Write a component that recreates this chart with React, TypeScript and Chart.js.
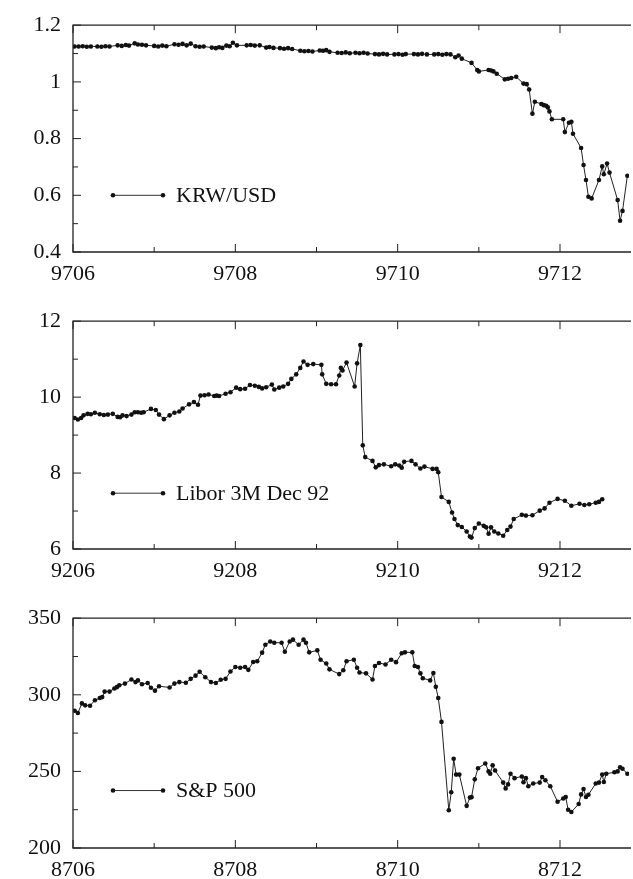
import React, { useEffect, useRef } from "react";
import { Chart, registerables } from "chart.js";

Chart.register(...registerables);

// ---------- Panel 1: KRW/USD ----------
const krwName = "KRW/USD";
const krwXTicks = ["9706", "9708", "9710", "9712"];
const krwYTicks = ["0.4", "0.6", "0.8", "1", "1.2"];
const krwT = [
  0.02, 0.07, 0.12, 0.17, 0.22, 0.3, 0.35, 0.4, 0.45, 0.55, 0.6, 0.65, 0.69, 0.76, 0.8, 0.85, 0.9,
  1.0, 1.05, 1.1, 1.15, 1.25, 1.3, 1.35, 1.4, 1.45, 1.51, 1.56, 1.61, 1.71, 1.76, 1.8, 1.84, 1.89,
  1.93, 1.97, 2.02, 2.14, 2.19, 2.24, 2.3, 2.38, 2.42, 2.47, 2.55, 2.6, 2.65, 2.7, 2.8, 2.85, 2.9,
  2.95, 3.04, 3.08, 3.12, 3.16, 3.26, 3.31, 3.36, 3.41, 3.48, 3.53, 3.58, 3.63, 3.72, 3.77, 3.82,
  3.87, 3.96, 4.01, 4.06, 4.1, 4.2, 4.25, 4.3, 4.36, 4.45, 4.5, 4.55, 4.6, 4.65, 4.71, 4.75, 4.79,
  4.91, 4.98, 5.0, 5.12, 5.15, 5.18, 5.22, 5.32, 5.36, 5.4, 5.46, 5.55, 5.59, 5.62, 5.66, 5.69,
  5.77, 5.8, 5.83, 5.85, 5.87, 5.9, 6.04, 6.06, 6.11, 6.14, 6.16, 6.26, 6.29, 6.32, 6.35, 6.39,
  6.48, 6.52, 6.54, 6.58, 6.61, 6.71, 6.74, 6.77, 6.83,
];
const krwV = [
  1.125, 1.125, 1.126, 1.124, 1.125, 1.125, 1.124, 1.126, 1.125, 1.129, 1.127, 1.13, 1.128, 1.136,
  1.132, 1.131, 1.129, 1.127, 1.125, 1.128, 1.126, 1.133, 1.131, 1.134, 1.129, 1.135, 1.126, 1.124,
  1.125, 1.121, 1.119, 1.122, 1.12, 1.128, 1.126, 1.138, 1.129, 1.129, 1.13, 1.128, 1.129, 1.121,
  1.123, 1.12, 1.119, 1.117, 1.119, 1.116, 1.11, 1.108, 1.109, 1.107, 1.111, 1.11, 1.112, 1.106,
  1.103, 1.102, 1.104, 1.101, 1.103, 1.101, 1.103, 1.1, 1.098, 1.097, 1.099, 1.097, 1.097, 1.098,
  1.096, 1.098, 1.098, 1.097, 1.099, 1.097, 1.097, 1.098, 1.096, 1.098, 1.097, 1.087, 1.093, 1.082,
  1.067, 1.042, 1.037, 1.042, 1.04, 1.037, 1.029, 1.009, 1.011, 1.014, 1.018, 0.994, 0.992, 0.973,
  0.888, 0.93, 0.922, 0.918, 0.916, 0.91, 0.896, 0.868, 0.868, 0.823, 0.856, 0.859, 0.817, 0.767,
  0.707, 0.654, 0.595, 0.589, 0.654, 0.702, 0.674, 0.712, 0.68, 0.583, 0.51, 0.545, 0.669,
];

// ---------- Panel 2: Libor 3M Dec 92 ----------
const liborName = "Libor 3M Dec 92";
const liborXTicks = ["9206", "9208", "9210", "9212"];
const liborYTicks = ["6", "8", "10", "12"];
const liborT = [
  0.02, 0.06, 0.1, 0.13, 0.18, 0.22, 0.27, 0.33, 0.38, 0.43, 0.49, 0.55, 0.58, 0.61, 0.66, 0.72,
  0.76, 0.8, 0.84, 0.87, 0.96, 1.02, 1.06, 1.12, 1.19, 1.25, 1.31, 1.35, 1.43, 1.49, 1.54, 1.57,
  1.62, 1.67, 1.74, 1.77, 1.8, 1.88, 1.94, 2.01, 2.06, 2.12, 2.18, 2.24, 2.29, 2.33, 2.38, 2.45,
  2.48, 2.54, 2.59, 2.65, 2.69, 2.75, 2.8, 2.84, 2.89, 2.96, 3.06, 3.07, 3.12, 3.18, 3.24, 3.28,
  3.3, 3.32, 3.37, 3.47, 3.5, 3.54, 3.57, 3.6, 3.69, 3.73, 3.77, 3.83, 3.92, 3.97, 4.02, 4.05,
  4.08, 4.17, 4.22, 4.28, 4.33, 4.43, 4.48, 4.5, 4.54, 4.63, 4.67, 4.7, 4.74, 4.79, 4.85, 4.89,
  4.91, 4.95, 5.0, 5.06, 5.09, 5.12, 5.15, 5.19, 5.24, 5.3, 5.35, 5.39, 5.43, 5.53, 5.58, 5.66,
  5.75, 5.81, 5.87, 5.97, 6.06, 6.14, 6.24, 6.3, 6.36, 6.44, 6.48, 6.52,
];
const liborV = [
  9.45, 9.41, 9.45, 9.52, 9.56, 9.55, 9.59, 9.55, 9.53, 9.54, 9.56, 9.48, 9.47, 9.52, 9.5, 9.54,
  9.6, 9.6, 9.59, 9.6, 9.69, 9.66, 9.54, 9.42, 9.52, 9.59, 9.62, 9.7, 9.81, 9.87, 9.8, 10.04,
  10.05, 10.07, 10.03, 10.04, 10.03, 10.09, 10.13, 10.25, 10.21, 10.22, 10.32, 10.3, 10.27, 10.23,
  10.26, 10.33, 10.2, 10.25, 10.28, 10.35, 10.48, 10.6, 10.77, 10.94, 10.85, 10.87, 10.85, 10.6,
  10.35, 10.34, 10.34, 10.57, 10.77, 10.7, 10.91, 10.28, 10.89, 11.37, 8.73, 8.42, 8.32, 8.15,
  8.21, 8.23, 8.18, 8.23, 8.2, 8.14, 8.3, 8.32, 8.23, 8.12, 8.17, 8.11, 8.11, 8.02, 7.37, 7.24,
  6.96, 6.79, 6.63, 6.58, 6.46, 6.33, 6.3, 6.55, 6.67, 6.61, 6.57, 6.4, 6.57, 6.46, 6.41, 6.35,
  6.5, 6.59, 6.79, 6.9, 6.88, 6.89, 7.01, 7.07, 7.22, 7.32, 7.27, 7.14, 7.19, 7.16, 7.18, 7.22,
  7.24, 7.31,
];

// ---------- Panel 3: S&P 500 ----------
const spName = "S&P 500";
const spXTicks = ["8706", "8708", "8710", "8712"];
const spYTicks = ["200", "250", "300", "350"];
const spT = [
  0.02, 0.06, 0.11, 0.15, 0.21, 0.27, 0.33, 0.36, 0.39, 0.45, 0.51, 0.54, 0.57, 0.64, 0.72, 0.77,
  0.8, 0.85, 0.92, 0.96, 1.01, 1.06, 1.19, 1.25, 1.31, 1.39, 1.45, 1.51, 1.56, 1.63, 1.7, 1.76,
  1.82, 1.88, 1.94, 2.0, 2.06, 2.12, 2.16, 2.22, 2.27, 2.33, 2.37, 2.43, 2.48, 2.57, 2.61, 2.67,
  2.71, 2.78, 2.84, 2.87, 2.91, 3.01, 3.05, 3.12, 3.16, 3.28, 3.33, 3.37, 3.46, 3.5, 3.53, 3.61,
  3.69, 3.72, 3.77, 3.85, 3.92, 3.98, 4.05, 4.09, 4.18, 4.21, 4.25, 4.28, 4.31, 4.4, 4.44, 4.47,
  4.5, 4.54, 4.63, 4.66, 4.69, 4.72, 4.76, 4.85, 4.89, 4.91, 4.95, 4.99, 5.08, 5.12, 5.14, 5.17,
  5.2, 5.3, 5.33, 5.36, 5.39, 5.44, 5.53, 5.55, 5.58, 5.61, 5.67, 5.75, 5.78, 5.82, 5.88, 5.97,
  6.04, 6.07, 6.1, 6.14, 6.23, 6.26, 6.29, 6.32, 6.35, 6.44, 6.48, 6.52, 6.54, 6.57, 6.67, 6.71,
  6.74, 6.77, 6.83, 6.9,
];
const spV = [
  289.6, 288.1, 294.4, 293.1, 292.9, 296.4, 297.9, 298.5, 302.1, 302.1, 304.1, 305.0, 306.2, 307.3,
  310.0, 308.3, 309.4, 306.9, 307.7, 304.6, 302.7, 305.6, 304.8, 307.3, 308.3, 307.9, 310.4, 312.5,
  315.0, 311.5, 308.3, 307.7, 309.8, 310.4, 315.2, 318.1, 317.7, 318.1, 316.3, 321.4, 321.9, 327.5,
  332.7, 334.8, 334.0, 334.0, 328.1, 334.8, 336.0, 332.7, 336.0, 334.0, 327.7, 329.0, 322.9, 320.4,
  316.6, 313.5, 316.0, 321.9, 322.9, 317.7, 314.6, 314.0, 310.0, 318.8, 320.8, 319.8, 322.9, 321.3,
  327.1, 327.7, 327.7, 318.8, 318.1, 314.0, 310.8, 309.4, 314.2, 305.2, 297.9, 282.3, 224.6, 236.4,
  258.3, 247.9, 247.9, 227.5, 232.9, 233.2, 244.8, 252.1, 255.2, 250.0, 248.5, 254.0, 250.6, 242.7,
  238.9, 241.5, 248.5, 245.6, 246.7, 242.9, 245.6, 240.3, 242.1, 242.7, 246.3, 244.2, 240.3, 230.2,
  232.3, 233.3, 225.0, 223.5, 228.7, 235.0, 238.5, 233.3, 234.8, 242.1, 242.7, 247.9, 243.1, 248.5,
  249.4, 250.0, 252.7, 251.7, 248.5, 246.0,
];

const FONT_FAMILY = "'Liberation Serif', 'Times New Roman', serif";
const INK = "#111";

type PanelDef = {
  name: string;
  xTicks: string[];
  yTicks: string[];
  t: number[];
  v: number[];
  yMin: number;
  yMax: number;
  yStep: number;
  legendValue: number;
  areaTop: number;
  areaBottom: number;
};

const PANEL_H = 300;
const PAD_TOP = 15;

function Panel({ def }: { def: PanelDef }) {
  const ref = useRef<HTMLCanvasElement | null>(null);
  useEffect(() => {
    if (!ref.current) return;
    const containerTop = def.areaTop - PAD_TOP;
    const xAxisH = PANEL_H - (def.areaBottom - containerTop);
    const yLabelFor = (val: number) => {
      const m = def.yTicks.find((s) => Math.abs(parseFloat(s) - val) < def.yStep * 0.01);
      return m ?? "";
    };
    const xLabelFor = (val: number) => {
      const r = Math.round(val);
      if (Math.abs(val - r) > 1e-6 || r % 2 !== 0) return "";
      return def.xTicks[r / 2] ?? "";
    };

    const framePlugin = {
      id: "frameTicks",
      afterDraw(chart: any) {
        const { ctx, chartArea: a } = chart;
        const xs = chart.scales.x;
        const ys = chart.scales.y;
        ctx.save();
        ctx.strokeStyle = "#222";
        ctx.lineWidth = 1.3;
        ctx.beginPath();
        ctx.moveTo(a.right + 2, a.top);
        ctx.lineTo(a.left, a.top);
        ctx.lineTo(a.left, a.bottom);
        ctx.lineTo(a.right + 2, a.bottom);
        ctx.stroke();
        ctx.lineWidth = 1;
        ctx.beginPath();
        xs.ticks.forEach((tk: any) => {
          const px = xs.getPixelForValue(tk.value);
          const major = xLabelFor(tk.value) !== "";
          const len = major ? 8 : 5;
          ctx.moveTo(px, a.bottom);
          ctx.lineTo(px, a.bottom - len);
          ctx.moveTo(px, a.top);
          ctx.lineTo(px, a.top + len);
        });
        ys.ticks.forEach((tk: any) => {
          const py = ys.getPixelForValue(tk.value);
          const major = yLabelFor(tk.value) !== "";
          const len = major ? 8 : 5;
          ctx.moveTo(a.left, py);
          ctx.lineTo(a.left + len, py);
        });
        ctx.stroke();

        // legend sample
        const ly = ys.getPixelForValue(def.legendValue);
        const x1 = 113;
        const x2 = 163;
        ctx.strokeStyle = "#333";
        ctx.lineWidth = 1;
        ctx.beginPath();
        ctx.moveTo(x1, ly);
        ctx.lineTo(x2, ly);
        ctx.stroke();
        ctx.fillStyle = INK;
        [x1, x2].forEach((px) => {
          ctx.beginPath();
          ctx.arc(px, ly, 2.3, 0, Math.PI * 2);
          ctx.fill();
        });
        ctx.font = `22px ${FONT_FAMILY}`;
        ctx.textBaseline = "middle";
        ctx.textAlign = "left";
        ctx.fillText(def.name, 176, ly + 1);
        ctx.restore();
      },
    };

    const chart = new Chart(ref.current, {
      type: "line",
      data: {
        datasets: [
          {
            label: def.name,
            data: def.t.map((t, i) => ({ x: t, y: def.v[i] })),
            borderColor: "#222",
            borderWidth: 1,
            pointRadius: 2.3,
            pointBackgroundColor: INK,
            pointBorderColor: INK,
            pointBorderWidth: 0,
            tension: 0,
          },
        ],
      },
      options: {
        animation: false,
        responsive: true,
        maintainAspectRatio: false,
        layout: { padding: { top: PAD_TOP, right: 0, left: 0, bottom: 0 } },
        plugins: { legend: { display: false }, tooltip: { enabled: false } },
        scales: {
          x: {
            type: "linear",
            min: 0,
            max: 6.85,
            grid: { display: false, drawTicks: false },
            border: { display: false },
            ticks: {
              stepSize: 1,
              includeBounds: false,
              autoSkip: false,
              maxRotation: 0,
              padding: 9,
              color: INK,
              font: { family: FONT_FAMILY, size: 22 },
              callback: (val: any) => xLabelFor(Number(val)),
            },
            afterFit: (s: any) => {
              s.height = xAxisH;
            },
          },
          y: {
            type: "linear",
            min: def.yMin,
            max: def.yMax,
            grid: { display: false, drawTicks: false },
            border: { display: false },
            ticks: {
              stepSize: def.yStep,
              autoSkip: false,
              padding: 12,
              color: INK,
              font: { family: FONT_FAMILY, size: 22 },
              callback: (val: any) => yLabelFor(Number(val)),
            },
            afterFit: (s: any) => {
              s.width = 73;
            },
          },
        },
      },
      plugins: [framePlugin],
    } as any);
    return () => chart.destroy();
  }, [def]);

  return (
    <div
      style={{
        position: "absolute",
        left: 0,
        top: def.areaTop - PAD_TOP,
        width: 633,
        height: PANEL_H,
      }}
    >
      <canvas ref={ref} />
    </div>
  );
}

const panels: PanelDef[] = [
  {
    name: krwName, xTicks: krwXTicks, yTicks: krwYTicks, t: krwT, v: krwV,
    yMin: 0.4, yMax: 1.2, yStep: 0.1, legendValue: 0.6, areaTop: 15, areaBottom: 252,
  },
  {
    name: liborName, xTicks: liborXTicks, yTicks: liborYTicks, t: liborT, v: liborV,
    yMin: 6, yMax: 12, yStep: 1, legendValue: 7.47, areaTop: 311, areaBottom: 549,
  },
  {
    name: spName, xTicks: spXTicks, yTicks: spYTicks, t: spT, v: spV,
    yMin: 200, yMax: 350, yStep: 25, legendValue: 237.5, areaTop: 608, areaBottom: 848,
  },
];

export default function App() {
  return (
    <div
      style={{
        position: "fixed",
        left: 0,
        top: 0,
        width: 633,
        height: 879,
        overflow: "hidden",
        background: "#fff",
      }}
    >
      {panels.map((p) => (
        <Panel key={p.name} def={p} />
      ))}
    </div>
  );
}
